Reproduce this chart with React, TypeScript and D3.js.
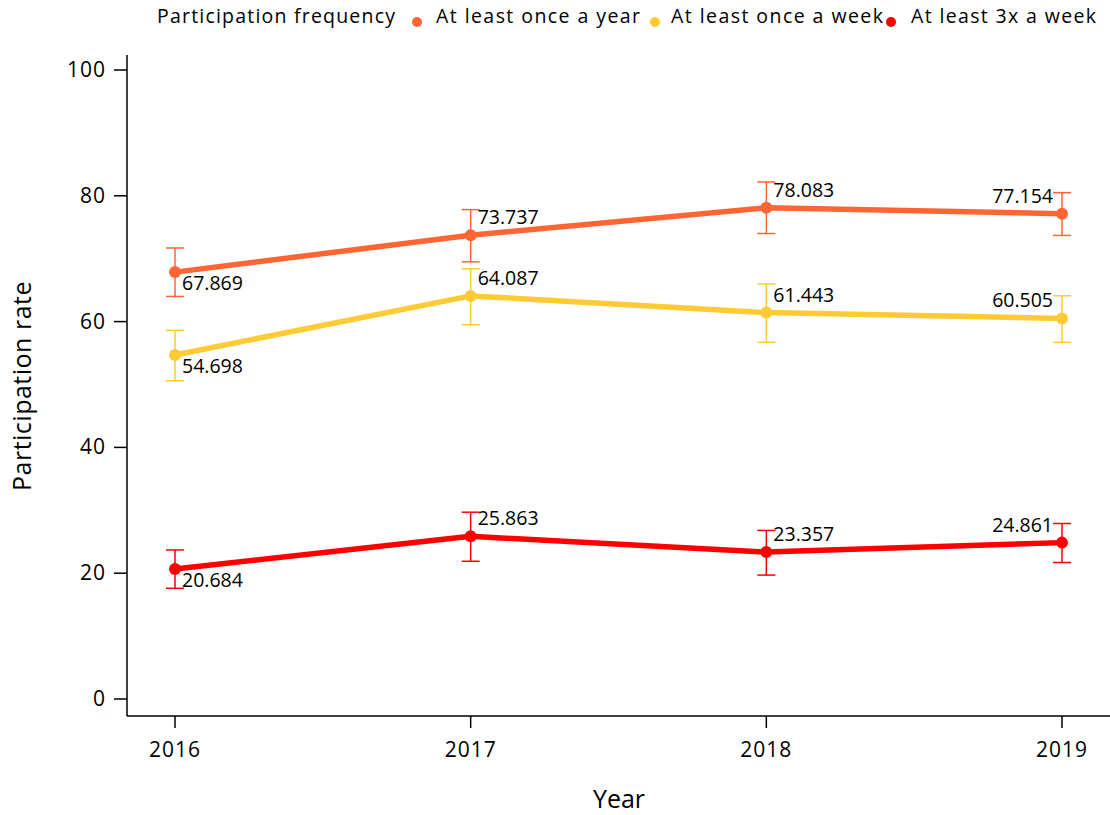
import React from "react";
import * as d3 from "d3";

const WIDTH = 1110;
const HEIGHT = 815;
const FONT = "'Open Sans', 'Noto Sans', sans-serif";

const years = ["2016", "2017", "2018", "2019"];
const yTicks = [0, 20, 40, 60, 80, 100];

const seriesNames = ["At least once a year", "At least once a week", "At least 3x a week"];
const seriesColors = ["#ff6633", "#ffca33", "#ff0000"];

const yearlyValues = [67.869, 73.737, 78.083, 77.154];
const yearlyLow = [64.0, 69.5, 74.0, 73.7];
const yearlyHigh = [71.7, 77.8, 82.2, 80.5];

const weeklyValues = [54.698, 64.087, 61.443, 60.505];
const weeklyLow = [50.6, 59.5, 56.7, 56.7];
const weeklyHigh = [58.6, 68.4, 66.0, 64.1];

const thriceValues = [20.684, 25.863, 23.357, 24.861];
const thriceLow = [17.6, 21.9, 19.7, 21.7];
const thriceHigh = [23.7, 29.7, 26.8, 27.9];

const series = [
  { name: seriesNames[0], color: seriesColors[0], values: yearlyValues, low: yearlyLow, high: yearlyHigh },
  { name: seriesNames[1], color: seriesColors[1], values: weeklyValues, low: weeklyLow, high: weeklyHigh },
  { name: seriesNames[2], color: seriesColors[2], values: thriceValues, low: thriceLow, high: thriceHigh },
];

// plot frame
const AXIS_X = 127;
const AXIS_Y = 716;
const AXIS_TOP = 55;

const x = d3.scalePoint<string>().domain(years).range([175, 1062]);
const y = d3.scaleLinear().domain([0, 100]).range([699, 70]);

// legend layout: text x, text width and dot x
const legendTitle = { x: 157, w: 238 };
const legendItems = [
  { dot: 417, x: 436, w: 204 },
  { dot: 655, x: 671, w: 212 },
  { dot: 891, x: 911, w: 185 },
];

export default function App() {
  const line = d3
    .line<number>()
    .x((_, i) => x(years[i])!)
    .y((d) => y(d));

  return (
    <svg
      width={WIDTH}
      height={HEIGHT}
      style={{ position: "absolute", left: 0, top: 0, background: "#fff" }}
      fontFamily={FONT}
    >
      {/* legend */}
      <text x={legendTitle.x} y={23} fontSize={19.5} textLength={legendTitle.w} lengthAdjust="spacing" fill="#000">
        Participation frequency
      </text>
      {series.map((s, i) => (
        <g key={s.name}>
          <circle cx={legendItems[i].dot} cy={22} r={5} fill={s.color} />
          <text
            x={legendItems[i].x}
            y={23}
            fontSize={19.5}
            textLength={legendItems[i].w}
            lengthAdjust="spacing"
            fill="#000"
          >
            {s.name}
          </text>
        </g>
      ))}

      {/* axes */}
      <line x1={AXIS_X} x2={AXIS_X} y1={AXIS_TOP} y2={AXIS_Y} stroke="#000" strokeWidth={1.5} />
      <line x1={AXIS_X} x2={WIDTH} y1={AXIS_Y} y2={AXIS_Y} stroke="#000" strokeWidth={1.5} />
      {yTicks.map((t) => (
        <g key={t}>
          <line x1={AXIS_X - 13} x2={AXIS_X} y1={y(t)} y2={y(t)} stroke="#000" strokeWidth={1.5} />
          <text x={AXIS_X - 21} y={y(t) + 7} fontSize={21} letterSpacing={1} textAnchor="end" fill="#000">
            {t}
          </text>
        </g>
      ))}
      {years.map((yr) => (
        <g key={yr}>
          <line x1={x(yr)} x2={x(yr)} y1={AXIS_Y} y2={AXIS_Y + 12} stroke="#000" strokeWidth={1.5} />
          <text x={x(yr)} y={757} fontSize={21} letterSpacing={1} textAnchor="middle" fill="#000">
            {yr}
          </text>
        </g>
      ))}
      <text x={619} y={808} fontSize={25} textAnchor="middle" fill="#000">
        Year
      </text>
      <text transform={`translate(31, 386) rotate(-90)`} fontSize={25} letterSpacing={0.5} textAnchor="middle" fill="#000">
        Participation rate
      </text>

      {/* series */}
      {series.map((s) => (
        <g key={s.name}>
          {s.values.map((_, i) => {
            const cx = x(years[i])!;
            return (
              <g key={i} stroke={s.color} strokeWidth={1.5}>
                <line x1={cx} x2={cx} y1={y(s.low[i])} y2={y(s.high[i])} />
                <line x1={cx - 9} x2={cx + 9} y1={y(s.low[i])} y2={y(s.low[i])} />
                <line x1={cx - 9} x2={cx + 9} y1={y(s.high[i])} y2={y(s.high[i])} />
              </g>
            );
          })}
          <path d={line(s.values) || ""} fill="none" stroke={s.color} strokeWidth={5.5} strokeLinejoin="round" />
          {s.values.map((v, i) => (
            <circle key={i} cx={x(years[i])} cy={y(v)} r={6} fill={s.color} />
          ))}
          {s.values.map((v, i) => {
            const cx = x(years[i])!;
            const first = i === 0;
            const last = i === s.values.length - 1;
            return (
              <text
                key={"l" + i}
                x={last ? cx - 9 : cx + 7}
                y={first ? y(v) + 18 : y(v) - 11}
                fontSize={19.5}
                textAnchor={last ? "end" : "start"}
                fill="#000"
              >
                {v.toFixed(3)}
              </text>
            );
          })}
        </g>
      ))}
    </svg>
  );
}
